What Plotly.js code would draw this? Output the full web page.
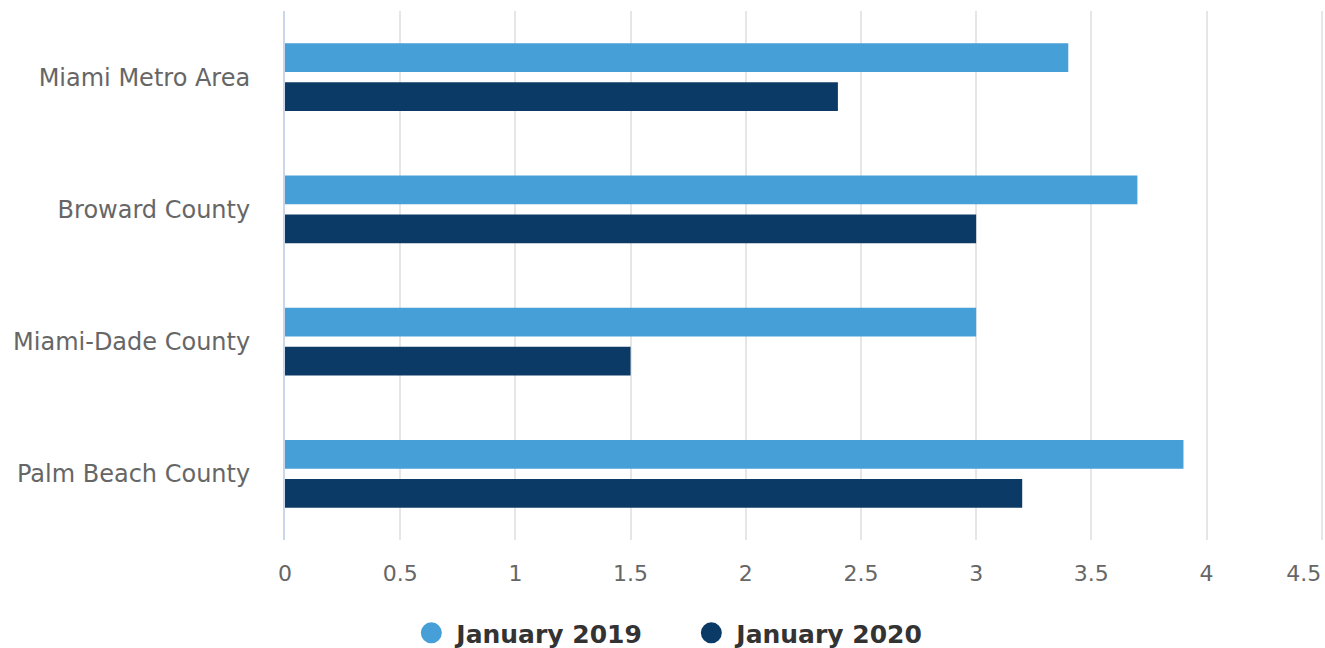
<!DOCTYPE html>
<html>
<head>
<meta charset="utf-8">
<script src="https://cdn.plot.ly/plotly-3.0.1.min.js"></script>
<style>html,body{margin:0;padding:0;background:#fff;}#chart{width:1325px;height:648px;}</style>
</head>
<body>
<div id="chart"></div>
<script>
const categories = ["Miami Metro Area", "Broward County", "Miami-Dade County", "Palm Beach County"];
const jan2019 = [3.4, 3.7, 3.0, 3.9];
const jan2020 = [2.4, 3.0, 1.5, 3.2];
const seriesNames = ["January 2019", "January 2020"];
const colors = ["#479fd8", "#0c3a66"];
const xTicks = [0, 0.5, 1, 1.5, 2, 2.5, 3, 3.5, 4];
const xLastTick = [4.5];
const xRange = [0, 4.51];

const traces = [
  {type: 'bar', orientation: 'h', name: seriesNames[0], y: categories, x: jan2019,
   marker: {color: colors[0]}, showlegend: false, hoverinfo: 'x'},
  {type: 'bar', orientation: 'h', name: seriesNames[1], y: categories, x: jan2020,
   marker: {color: colors[1]}, showlegend: false, hoverinfo: 'x'},
  {type: 'scatter', mode: 'markers', name: seriesNames[0], x: [null], y: [null], xaxis: 'x2',
   marker: {color: colors[0], size: 16, symbol: 'circle', line: {color: colors[0], width: 5}}, showlegend: true},
  {type: 'scatter', mode: 'markers', name: seriesNames[1], x: [null], y: [null], xaxis: 'x2',
   marker: {color: colors[1], size: 16, symbol: 'circle', line: {color: colors[1], width: 5}}, showlegend: true}
];

const tickFont = {family: 'DejaVu Sans, Verdana, sans-serif', size: 22, color: '#666666'};

const layout = {
  width: 1325, height: 648,
  margin: {l: 285, r: 1, t: 11, b: 108},
  paper_bgcolor: '#ffffff', plot_bgcolor: '#ffffff',
  font: {family: 'DejaVu Sans, Verdana, sans-serif', color: '#666666', size: 19},
  barmode: 'group',
  bargap: 0.41,
  bargroupgap: 0.26,
  xaxis: {
    range: xRange, tickvals: xTicks, ticktext: xTicks.map(String),
    showgrid: true, gridcolor: '#e6e6e6', gridwidth: 2,
    zeroline: false, showline: false, ticks: '',
    ticklabelstandoff: 18,
    tickfont: tickFont,
    fixedrange: true
  },
  xaxis2: {
    overlaying: 'x', anchor: 'y', side: 'bottom',
    range: xRange, tickvals: xLastTick, ticktext: xLastTick.map(String),
    showgrid: true, gridcolor: '#e6e6e6', gridwidth: 2,
    zeroline: false, showline: false, ticks: '',
    ticklabelstandoff: 18, ticklabelshift: -18, ticklabeloverflow: 'allow',
    tickfont: tickFont,
    fixedrange: true
  },
  yaxis: {
    type: 'category', autorange: 'reversed',
    showgrid: false, zeroline: false,
    showline: true, linecolor: '#ccd6eb', linewidth: 2,
    ticks: '', ticklabelstandoff: 28,
    tickfont: {family: 'DejaVu Sans, Verdana, sans-serif', size: 24, color: '#666666'},
    fixedrange: true
  },
  showlegend: true,
  legend: {
    orientation: 'h', xref: 'container', yref: 'container',
    x: 0.518, xanchor: 'center', y: 0.023, yanchor: 'middle',
    font: {family: 'DejaVu Sans, Verdana, sans-serif', size: 25, color: '#333333', weight: 'bold'},
    itemwidth: 40, tracegroupgap: 0, itemclick: false,
    entrywidth: 225, entrywidthmode: 'pixels'
  }
};

Plotly.newPlot('chart', traces, layout, {displayModeBar: false, staticPlot: true});
</script>
</body>
</html>
